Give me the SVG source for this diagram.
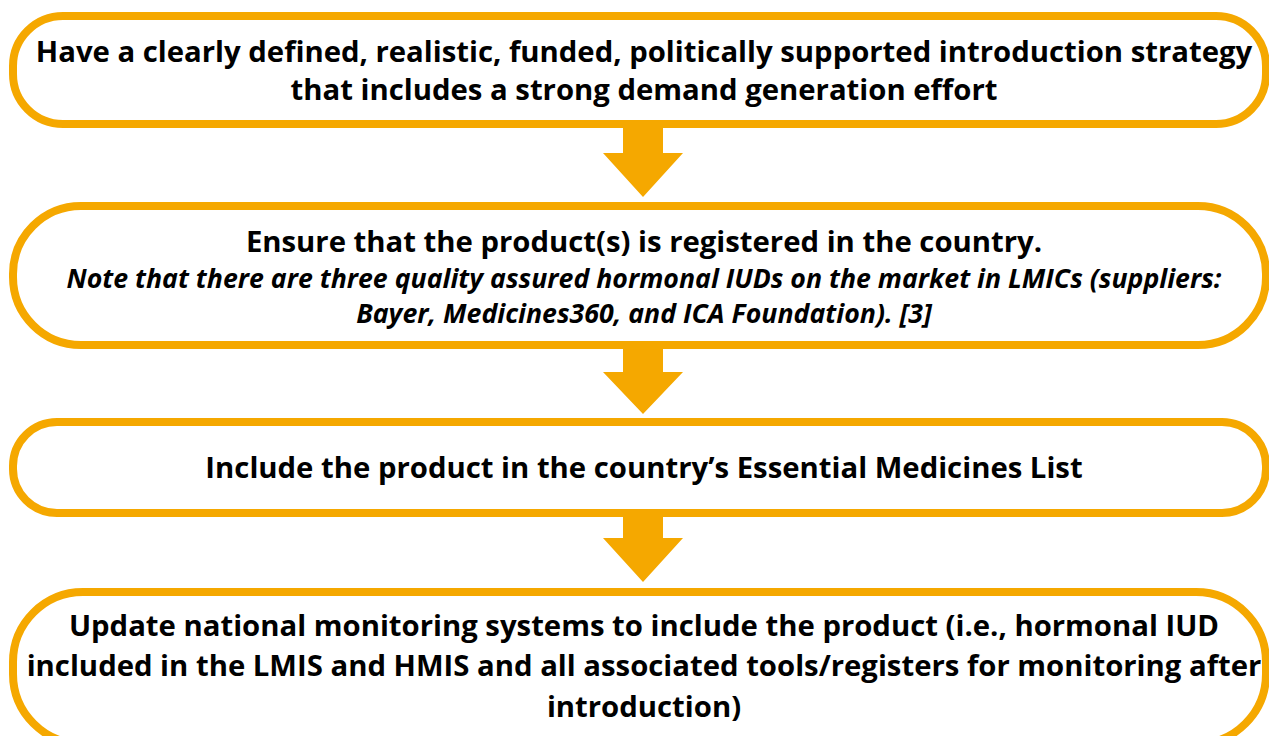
<svg xmlns="http://www.w3.org/2000/svg" width="1269" height="736" viewBox="0 0 1269 736">
<style>
.box{fill:#fff;stroke:#F5A800;stroke-width:8}
.arr{fill:#F5A800}
text{font-family:"Open Sans","Noto Sans","DejaVu Sans",sans-serif;font-weight:700;fill:#000;text-anchor:middle}
.b{font-size:29.3px}
.i{font-size:26.7px;font-style:italic}
</style>
<rect width="1269" height="736" fill="#fff"/>
<g id="connectors">
<polygon class="arr" points="623,126 663,126 663,153 683,153 643,197 603,153 623,153"/>
<polygon class="arr" points="623,347 663,347 663,372 683,372 643,414 603,372 623,372"/>
<polygon class="arr" points="623,515 663,515 663,538 683,538 643,582 603,538 623,538"/>
</g>
<g id="node1">
<rect class="box" x="13" y="16" width="1253" height="108" rx="50" ry="50"/>
<text class="b" x="644" y="62">Have a clearly defined, realistic, funded, politically supported introduction strategy</text>
<text class="b" x="644" y="100">that includes a strong demand generation effort</text>
</g>
<g id="node2">
<rect class="box" x="13" y="206" width="1253" height="139" rx="68" ry="68"/>
<text class="b" x="644" y="252">Ensure that the product(s) is registered in the country.</text>
<text class="i" x="644" y="288">Note that there are three quality assured hormonal IUDs on the market in LMICs (suppliers:</text>
<text class="i" x="644" y="323">Bayer, Medicines360, and ICA Foundation). [3]</text>
</g>
<g id="node3">
<rect class="box" x="13" y="422" width="1253" height="91" rx="44" ry="44"/>
<text class="b" x="644" y="478">Include the product in the country’s Essential Medicines List</text>
</g>
<g id="node4">
<rect class="box" x="13" y="592" width="1253" height="152" rx="70" ry="70"/>
<text class="b" x="644" y="636">Update national monitoring systems to include the product (i.e., hormonal IUD</text>
<text class="b" x="644" y="676">included in the LMIS and HMIS and all associated tools/registers for monitoring after</text>
<text class="b" x="644" y="717">introduction)</text>
</g>
</svg>
